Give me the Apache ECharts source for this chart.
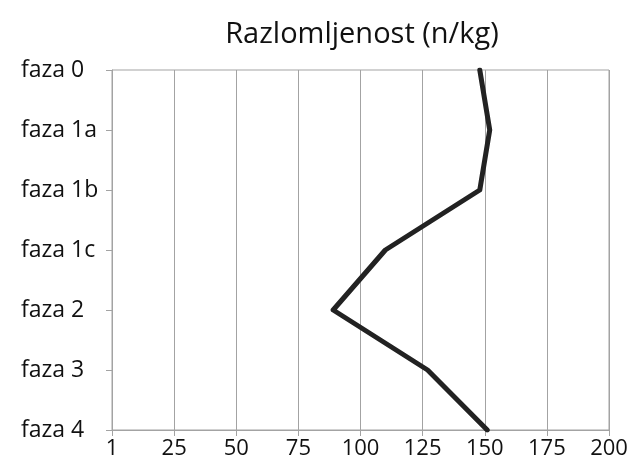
<!DOCTYPE html>
<html>
<head>
<meta charset="utf-8">
<script src="https://cdn.jsdelivr.net/npm/echarts@6/dist/echarts.min.js"></script>
<style>
html,body{margin:0;padding:0;background:#fff;}
#chart{width:634px;height:470px;}
</style>
</head>
<body>
<div id="chart"></div>
<script>
const titleText = "Razlomljenost (n/kg)";
const categories = ["faza 0", "faza 1a", "faza 1b", "faza 1c", "faza 2", "faza 3", "faza 4"];
const values = [148, 152, 148, 110, 89, 127, 151];
const xTickLabels = { 0: "1" };

const FONT = "'Open Sans', 'Noto Sans', sans-serif";
const GRAY = "#a3a3a3";

const chart = echarts.init(document.getElementById('chart'), null, { renderer: 'canvas' });
chart.setOption({
  animation: false,
  backgroundColor: '#ffffff',
  title: {
    text: titleText,
    left: 357,
    textAlign: 'center',
    top: 15,
    textStyle: { fontFamily: FONT, fontSize: 29, fontWeight: 'normal', color: '#111' }
  },
  grid: {
    left: 112, right: 25, top: 70, bottom: 40,
    show: true, borderColor: GRAY, borderWidth: 1
  },
  xAxis: {
    type: 'value',
    min: 0, max: 200, interval: 25,
    axisLine: { show: true, lineStyle: { color: GRAY, width: 1 } },
    axisTick: { show: true, length: 6, lineStyle: { color: GRAY } },
    splitLine: { show: true, lineStyle: { color: GRAY, width: 1 } },
    axisLabel: {
      margin: 8,
      fontFamily: FONT, fontSize: 22, color: '#111',
      formatter: v => (xTickLabels[v] !== undefined ? xTickLabels[v] : String(v))
    }
  },
  yAxis: {
    type: 'category',
    data: categories,
    inverse: true,
    boundaryGap: false,
    axisLine: { show: true, lineStyle: { color: GRAY, width: 1 } },
    axisTick: { show: true, length: 6, alignWithLabel: true, lineStyle: { color: GRAY } },
    splitLine: { show: false },
    axisLabel: { margin: 91, align: 'left', fontFamily: FONT, fontSize: 23, color: '#111' }
  },
  series: [{
    type: 'line',
    data: values,
    symbol: 'none',
    lineStyle: { color: '#222222', width: 5, cap: 'round', join: 'round' }
  }]
});
</script>
</body>
</html>
